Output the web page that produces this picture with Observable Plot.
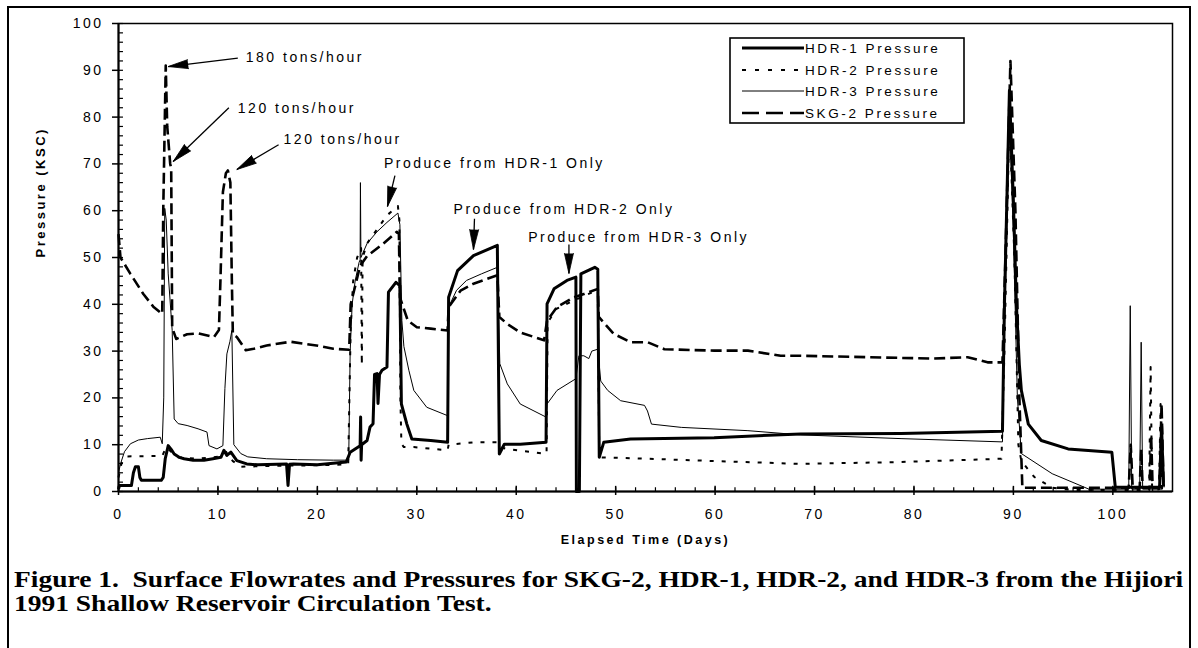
<!DOCTYPE html>
<html><head><meta charset="utf-8">
<script src="https://cdn.jsdelivr.net/npm/d3@7"></script>
<script src="https://cdn.jsdelivr.net/npm/@observablehq/plot@0.6"></script>
<style>
body{margin:0;background:#fff;width:1198px;height:648px;overflow:hidden;position:relative;font-family:"Liberation Sans",Arial,sans-serif;}
#frame{position:absolute;left:7px;top:6px;width:1184px;height:700px;border:2px solid #000;box-sizing:border-box;}
#chart{position:absolute;left:0;top:0;}
#legend{position:absolute;left:729px;top:37px;}
#caption{position:absolute;left:14px;top:567px;font:bold 24px/24px "Liberation Serif","Times New Roman",serif;transform-origin:0 0;transform:scaleX(1.145);white-space:nowrap;color:#000;}
</style></head>
<body>
<div id="frame"></div>
<div id="chart"></div>
<div id="legend"></div>
<div id="caption"></div>
<script>
// ---------- data (day, pressure KSC) ----------
const seriesNames = ["HDR-1 Pressure", "HDR-2 Pressure", "HDR-3 Pressure", "SKG-2 Pressure"];

const hdr1 = [[0,0.5],[0.1,1.3],[1.3,1.3],[1.5,4],[1.7,5.3],[2.0,5.3],[2.15,3],[2.3,2.4],[4.3,2.4],[4.5,3],[4.7,7],[5.0,9.8],[5.3,9],[5.6,8],[6.1,7.3],[6.6,7],[7.5,6.7],[8.6,6.7],[9.5,7],[10.3,7.3],[10.6,8.8],[10.9,7.7],[11.3,8.4],[11.6,7.5],[11.9,6.6],[12.9,5.9],[14,5.7],[16.9,5.9],[17.05,1.3],[17.2,5.8],[17.6,5.9],[20,5.7],[22.9,6.3],[23.3,8.4],[24.3,9.8],[24.35,15.9],[24.4,6.7],[24.45,10],[25.0,10.9],[25.3,13.8],[25.6,14.5],[25.75,25],[26.0,25.2],[26.1,18.8],[26.25,25],[26.5,25.9],[27.0,26.6],[27.15,42.6],[27.9,44.7],[28.3,44],[28.45,18.7],[29.0,14.4],[29.5,11.2],[31.4,10.9],[33.1,10.5],[33.2,41.5],[34.1,47.2],[35.7,50.4],[38.1,52.6],[38.3,8],[38.8,10.1],[40.4,10.1],[43.0,10.5],[43.1,40.1],[43.8,43.3],[45.1,45.1],[46.0,45.8],[46.05,0],[46.35,0],[46.5,46.5],[47.9,47.9],[48.2,47.5],[48.35,7.3],[48.8,10.5],[51.5,11.2],[59.9,11.5],[68.6,12.3],[78.7,12.4],[88.9,12.9],[89.1,40],[89.6,85.7],[90.0,62],[90.3,40],[90.6,27],[90.8,21.6],[91.5,14.4],[92.8,10.9],[95.5,9.1],[99.9,8.4],[100.25,0.9],[104.7,0.9],[104.9,14],[105.1,1]];

const hdr2 = [[0,3],[0.3,6],[0.8,7.5],[4.4,7.6],[4.8,9.5],[5.3,8.5],[6,7.3],[8,7],[10.3,7.5],[10.8,8.5],[11.5,6.5],[12.3,5.3],[16,5.5],[20,5.6],[23.1,5.8],[23.35,35],[23.6,45],[24.0,50],[24.4,52],[24.47,27],[24.55,50],[25,53],[26,56],[27,59],[28.1,61],[28.25,58],[28.35,20],[28.45,10.2],[28.7,9.5],[29.7,9.5],[33.1,8.8],[33.2,10],[35.7,10.5],[38.1,10.5],[38.3,9.5],[39.1,9.1],[42.8,8.1],[43.05,8.1],[43.15,36],[44,39],[46,41],[47,42],[48.2,43],[48.35,7.3],[53.2,7],[60,6.5],[68.6,5.9],[78.7,6.3],[88.8,7],[89.1,30],[89.6,80],[90.1,50],[90.5,10],[90.8,6.5],[92.1,3.1],[93.9,0.8],[96,0.3],[103.65,0.3],[103.8,26.6],[103.95,0.3],[104.65,0.5],[104.8,18.7],[104.95,0.5]];

const hdr3 = [[0,4],[0.2,5.9],[0.6,8.5],[1.2,10.2],[2.0,11],[2.9,11.3],[4.2,11.6],[4.4,10.2],[4.55,20],[4.65,60.5],[4.8,58],[5.0,46.5],[5.4,34.4],[5.6,15.5],[6.0,14.5],[6.9,14.1],[8.0,13.4],[8.9,12.7],[9.1,9.8],[9.9,9.1],[10.5,9.8],[10.7,22],[10.9,29.4],[11.2,32],[11.4,34.4],[11.6,10],[12.3,8.1],[13,7.4],[14.9,7],[18,6.8],[21.6,6.7],[23.15,6.7],[23.3,30],[23.5,40],[23.8,45],[24.2,49],[24.3,49.5],[24.33,66],[24.38,50],[25,53],[26,55.5],[27,57.5],[28.1,59.5],[28.3,57],[28.5,36.5],[28.7,31],[29.2,25.9],[29.7,21.6],[31.0,18],[33.1,16.2],[33.2,39.4],[34.0,43],[35.0,45.1],[36.5,46.5],[38.1,47.9],[38.35,27.3],[39.1,23],[40.4,18.7],[43.0,15.9],[43.1,18.7],[44.1,21.6],[46.0,24.1],[46.3,29],[46.8,29],[47.3,28.4],[47.6,30],[48.2,30.4],[48.5,23.6],[49.2,21.6],[50.5,19.4],[52.9,18.4],[53.2,17.2],[53.6,14.4],[56.6,13.7],[63.3,13],[68.6,12.1],[78.7,11.3],[88.9,10.6],[89.1,35],[89.6,80],[90.0,55],[90.4,20],[90.8,8.1],[93.9,3.8],[97.6,0.5],[101.6,0.5],[101.75,39.7],[101.9,0.5],[102.7,0.5],[102.85,31.9],[103.0,0.5],[105,0.5]];

const skg2 = [[0,55],[0.2,50],[1.2,46.5],[2.5,42.2],[3.5,39.5],[4.2,38.3],[4.4,38],[4.5,60],[4.75,91],[4.9,78],[5.2,70],[5.3,69],[5.4,35],[5.8,32.6],[6.9,33.6],[8,33.8],[9.6,33],[10.1,34.5],[10.25,45],[10.5,64],[10.8,68],[11.0,68.6],[11.25,66],[11.4,45],[11.5,33.6],[11.9,33],[12.8,30.2],[13.6,30.5],[14.9,31.2],[17.3,32],[19.9,31.2],[21.6,30.5],[23.2,30.3],[23.35,40],[23.7,43],[24.3,48.2],[25,50.3],[26.6,52.9],[28.0,55.5],[28.2,55],[28.3,41.5],[29.1,36.5],[30.0,35.1],[31.4,34.8],[33.1,34.4],[33.2,39.4],[34.4,42.9],[35.7,44.4],[38.1,46.2],[38.3,37.3],[39.1,35.8],[40.4,34],[42.8,32.3],[43.1,36.5],[44.1,39.4],[45.8,41.5],[46.8,42.2],[48.2,43.3],[48.3,37.3],[49.8,33.7],[51.5,31.9],[53.2,31.9],[54.9,30.4],[59.9,30.1],[63.3,30.1],[66.6,29],[68.6,29],[75.3,28.7],[81.9,28.4],[85.4,28.7],[87.4,27.6],[88.9,27.6],[89.2,50],[89.7,92],[90.2,60],[90.6,20],[90.9,0.8],[101.6,0.8],[101.8,10],[102,0.8],[102.7,0.8],[102.85,9],[103,0.8],[103.7,0.8],[103.85,12],[104,0.8],[104.7,0.8],[104.9,18.7],[105.1,0.8]];

const xTickLabels = [0, 10, 20, 30, 40, 50, 60, 70, 80, 90, 100];
const yTickLabels = [0, 10, 20, 30, 40, 50, 60, 70, 80, 90, 100];

// annotations
const noteText = ["180 tons/hour", "120 tons/hour", "120 tons/hour", "Produce from HDR-1 Only", "Produce from HDR-2 Only", "Produce from HDR-3 Only"];
const noteX = [12.8, 12.0, 16.6, 26.7, 33.7, 41.2];
const noteY = [92.7, 81.8, 75.2, 70.1, 60.3, 54.3];
const arrowFrom = [[12.0, 92.6], [11.1, 82.0], [16.1, 74.1], [27.8, 67.5], [35.8, 58.3], [45.3, 52.8]];
const arrowTo = [[5.0, 90.8], [5.5, 70.5], [11.9, 68.8], [27.05, 60.9], [35.7, 51.7], [45.3, 46.6]];

// ---------- layout ----------
const W = 1198, H = 560, mL = 118, mR = 26, mT = 23, mB = 69;
const xDomain = [0, 106], yDomain = [0, 100];
const kx = (W - mL - mR) / (xDomain[1] - xDomain[0]);
const ky = (H - mT - mB) / (yDomain[1] - yDomain[0]);

const xMinor = d3.range(0, 106, 2);
const yMinor = d3.range(0, 101, 2);

const notes = noteText.map((t, i) => ({t, x: noteX[i], y: noteY[i]}));
const arrows = arrowFrom.map((f, i) => {
  const to = arrowTo[i];
  const dxp = (to[0] - f[0]) * kx, dyp = -(to[1] - f[1]) * ky;
  return {x1: f[0], y1: f[1], x2: to[0], y2: to[1], angle: Math.atan2(dxp, -dyp) * 180 / Math.PI};
});

const styles = {
  "HDR-1 Pressure": {data: hdr1, sw: 3, dash: null, ldash: null},
  "HDR-2 Pressure": {data: hdr2, sw: 2, dash: "4,8", ldash: "4,9"},
  "HDR-3 Pressure": {data: hdr3, sw: 1, dash: null, ldash: null},
  "SKG-2 Pressure": {data: skg2, sw: 2.6, dash: "11,5", ldash: "17,7"}
};
const drawOrder = ["HDR-3 Pressure", "HDR-2 Pressure", "SKG-2 Pressure", "HDR-1 Pressure"];

const lineMarks = drawOrder.map(name => {
  const s = styles[name];
  return Plot.line(s.data, {x: d => d[0], y: d => d[1], stroke: "#000", strokeWidth: s.sw,
    strokeDasharray: s.dash || undefined, strokeLinejoin: "round", strokeLinecap: "butt"});
});

const chart = Plot.plot({
  width: W, height: H,
  marginLeft: mL, marginRight: mR, marginTop: mT, marginBottom: mB,
  x: {domain: xDomain},
  y: {domain: yDomain},
  style: {fontFamily: "'Liberation Sans', Arial, sans-serif", fontSize: "14px", letterSpacing: "2.5px", background: "transparent", color: "#000", overflow: "visible"},
  marks: [
    Plot.frame({stroke: "#000", strokeWidth: 1.5}),
    Plot.ruleX([0], {stroke: "#000", strokeWidth: 2}),
    Plot.ruleY([0], {stroke: "#000", strokeWidth: 2}),
    Plot.axisY({ticks: yTickLabels, tickSize: 6, tickPadding: 9, fontSize: 14, label: null, tickFormat: d => String(d), strokeWidth: 1.5}),
    Plot.axisX({ticks: xTickLabels, tickSize: 4, tickPadding: 14, fontSize: 14, label: null, tickFormat: d => String(d), strokeWidth: 1.5}),
    Plot.ruleY(yMinor, {x1: 0, x2: 0.5, stroke: "#000", strokeWidth: 1.2}),
    Plot.ruleX(xMinor, {y1: 0, y2: 0.8, stroke: "#000", strokeWidth: 1.2}),
    Plot.ruleX(xTickLabels, {y1: 0, y2: 1.1, stroke: "#000", strokeWidth: 1.5}),
    Plot.text(["Elapsed Time (Days)"], {frameAnchor: "bottom", dy: 52, fontSize: 12.5, fontWeight: "bold", letterSpacing: "2px"}),
    Plot.text(["Pressure (KSC)"], {frameAnchor: "left", dx: -78, rotate: -90, fontSize: 13, fontWeight: "bold"}),
    ...lineMarks,
    Plot.text(notes, {x: "x", y: "y", text: "t", textAnchor: "start", fontSize: 14, fill: "#000"}),
    Plot.link(arrows, {x1: "x1", y1: "y1", x2: "x2", y2: "y2", stroke: "#000", strokeWidth: 1.3}),
    Plot.vector(arrows, {x: "x2", y: "y2", rotate: "angle", length: 20, r: 4.5, shape: "spike", anchor: "end", fill: "#000", stroke: "#000", strokeWidth: 0.8})
  ]
});
document.getElementById("chart").appendChild(chart);

// ---------- legend (inside plot, upper right) ----------
const rowY = [11, 33, 54, 76];
let lg = `<svg width="237" height="88" xmlns="http://www.w3.org/2000/svg" style="font-family:'Liberation Sans',Arial,sans-serif">`;
lg += `<rect x="1" y="1" width="234" height="85" fill="#fff" stroke="#000" stroke-width="1.6"/>`;
seriesNames.forEach((name, i) => {
  const s = styles[name];
  lg += `<line x1="13" x2="75" y1="${rowY[i]}" y2="${rowY[i]}" stroke="#000" stroke-width="${s.sw}" ${s.ldash ? `stroke-dasharray="${s.ldash}"` : ""}/>`;
  lg += `<text x="76" y="${rowY[i]}" dy="0.36em" font-size="13.5" letter-spacing="2.6">${name}</text>`;
});
lg += `</svg>`;
document.getElementById("legend").innerHTML = lg;

// ---------- caption ----------
const captionLines = ["Figure 1.\u00a0 Surface Flowrates and Pressures for SKG-2, HDR-1, HDR-2, and HDR-3 from the Hijiori", "1991 Shallow Reservoir Circulation Test."];
document.getElementById("caption").innerHTML = captionLines.join("<br>");
</script>
</body></html>
